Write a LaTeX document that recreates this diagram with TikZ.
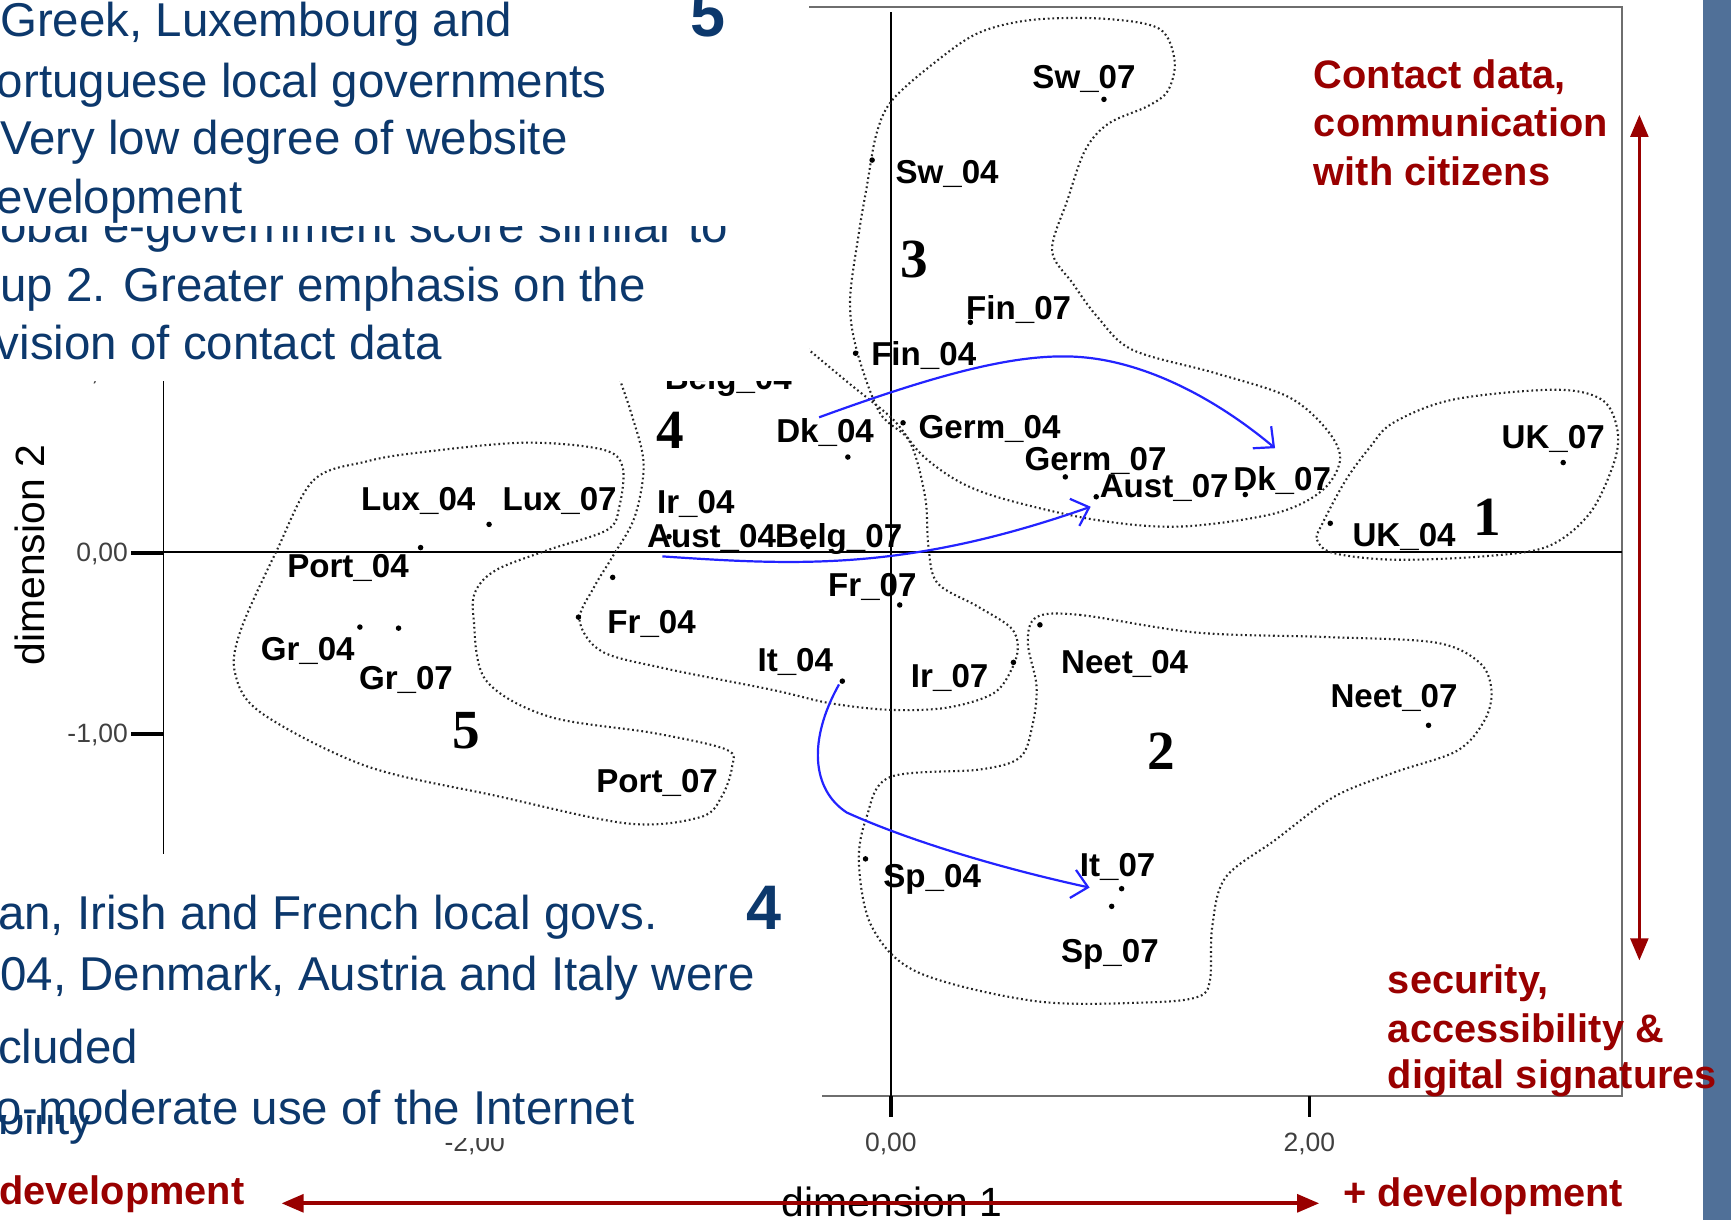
\documentclass[tikz,border=0pt]{standalone}
\usepackage{fontspec}
\setmainfont{Liberation Sans}
\newfontfamily\numserif{Liberation Serif}
\usetikzlibrary{arrows.meta}
\definecolor{navy}{RGB}{12,56,108}
\definecolor{darkred}{RGB}{153,0,0}
\definecolor{stripe}{RGB}{80,112,152}
\definecolor{arrowblue}{RGB}{35,35,255}
\definecolor{axisgray}{RGB}{110,110,110}
\begin{document}
\begin{tikzpicture}[x=1pt,y=-1pt,
  bodytext/.style={anchor=base west, inner sep=0pt, text=navy, font=\fontsize{43}{50}\selectfont},
  bignum/.style={anchor=base west, inner sep=0pt, text=navy, font=\bfseries\fontsize{57}{60}\selectfont},
  ptlabel/.style={anchor=base west, inner sep=0pt, font=\bfseries\fontsize{30}{32}\selectfont},
  clusternum/.style={anchor=base, inner sep=0pt, font=\numserif\bfseries\fontsize{50}{50}\selectfont},
  ticklabel/.style={inner sep=0pt, text=black!75, font=\fontsize{24}{26}\selectfont},
  axislabel/.style={inner sep=0pt, font=\fontsize{37}{40}\selectfont},
  redtext/.style={anchor=base west, inner sep=0pt, text=darkred, font=\bfseries\fontsize{36}{40}\selectfont},
  datapt/.style={circle, fill=black, inner sep=0pt, minimum size=5pt},
  outline/.style={draw=black!85, line width=1.9pt, dash pattern=on 1.6pt off 2.6pt},
  move/.style={draw=arrowblue, line width=2pt, -{Straight Barb[length=14pt,width=26pt,line width=2pt]}},
  extent/.style={draw=darkred, {Triangle[length=20pt,width=16pt]}-{Triangle[length=20pt,width=16pt]}},
  frameline/.style={draw=axisgray, line width=1.6pt},
  refline/.style={draw=black, line width=1.5pt},
  tickmark/.style={draw=black, line width=3pt}]

\useasboundingbox (0,0) rectangle (1568,1105);
\clip (0,0) rectangle (1568,1105);
\fill[white] (0,0) rectangle (1568,1105);
\fill[stripe] (1543,0) rectangle (1568,1105);

% ---------- plot frame and axes ----------
\coordinate (fTL) at (148,6);
\coordinate (fTR) at (1469,6);
\coordinate (fBR) at (1469,993);
\coordinate (fBL) at (148,993);
\draw[frameline] (fTL) -- (fTR) -- (fBR) -- (fBL);
\draw[refline] (fTL) -- (fBL);
\coordinate (h0) at (148,500);
\coordinate (h1) at (1469,500);
\draw[refline] (h0) -- (h1);
\coordinate (v0) at (807,11);
\coordinate (v1) at (807,993);
\draw[refline] (v0) -- (v1);

\coordinate (ty1a) at (119,337); \coordinate (ty1b) at (148,337);
\coordinate (ty0a) at (119,501); \coordinate (ty0b) at (148,501);
\coordinate (tym1a) at (119,665); \coordinate (tym1b) at (148,665);
\draw[tickmark] (ty1a) -- (ty1b);
\draw[tickmark] (ty0a) -- (ty0b);
\draw[tickmark] (tym1a) -- (tym1b);
\coordinate (txm2a) at (428,993); \coordinate (txm2b) at (428,1012);
\coordinate (tx0a) at (807,993); \coordinate (tx0b) at (807,1012);
\coordinate (tx2a) at (1186,993); \coordinate (tx2b) at (1186,1012);
\draw[tickmark] (txm2a) -- (txm2b);
\draw[tickmark] (tx0a) -- (tx0b);
\draw[tickmark] (tx2a) -- (tx2b);

\node[ticklabel, anchor=east] (ly1) at (116,338) {1,00};
\node[ticklabel, anchor=east] (ly0) at (116,502) {0,00};
\node[ticklabel, anchor=east] (lym1) at (116,666) {-1,00};
\node[ticklabel, anchor=base] (lx0) at (807,1043) {0,00};
\node[ticklabel, anchor=base] (lx2) at (1186,1043) {2,00};
\node[axislabel, rotate=90] (dimtwo) at (27,503) {dimension 2};
\node[axislabel, anchor=base] (dimone) at (808,1102) {dimension 1};

% ---------- cluster outlines ----------
\draw[outline] plot[smooth, tension=0.55] coordinates {
 (728,313) (770,348) (809,380) (835,412) (870,437) (913,453) (993,471)
 (1069,477) (1155,465) (1198,444) (1214,415) (1200,387) (1166,359)
 (1101,338) (1026,317) (994,287) (972,257) (953,227) (967,181) (983,136)
 (1004,112) (1040,96) (1058,82) (1064,55) (1050,26) (1000,17) (935,18)
 (886,30) (845,58) (808,91) (794,121) (785,170) (778,211) (770,272)
 (776,317) (797,374) (824,400) (838,450) (841,495) (849,528) (885,549)
 (915,568) (922,585) (917,605) (900,628) (858,641) (806,643) (752,637)
 (700,625) (600,605) (545,590) (525,562) (538,532) (555,504) (575,468)
 (583,420) (572,375) (560,340)};
\draw[outline] plot[smooth cycle, tension=0.55] coordinates {
 (939,559) (978,557) (1084,573) (1200,577) (1300,582) (1340,600)
 (1351,625) (1345,652) (1320,680) (1262,700) (1208,722) (1155,761)
 (1110,795) (1098,840) (1096,888) (1085,903) (1040,908) (939,907)
 (832,881) (790,840) (778,782) (785,740) (806,704) (888,697) (924,686)
 (935,658) (939,622) (931,582)};
\draw[outline] plot[smooth cycle, tension=0.55] coordinates {
 (1198,474) (1193,489) (1208,501) (1262,507) (1343,504) (1402,495)
 (1440,465) (1462,419) (1465,389) (1451,362) (1408,353) (1316,362)
 (1262,383) (1241,405) (1219,435)};
\draw[outline] plot[smooth cycle, tension=0.55] coordinates {
 (251,498) (284,435) (332,418) (379,410) (474,401) (545,407) (564,423)
 (561,459) (550,480) (497,498) (450,516) (431,535) (429,560) (440,616)
 (497,649) (592,664) (658,679) (663,695) (654,721) (635,740) (569,746)
 (450,721) (332,694) (237,646) (213,610) (218,571)};

% ---------- data points ----------
\node[datapt] (pSw07) at (1000,90) {};
\node[datapt] (pSw04) at (790,145) {};
\node[datapt] (pFin07) at (879,292) {};
\node[datapt] (pFin04) at (775,320) {};
\node[datapt] (pGerm04) at (818,383) {};
\node[datapt] (pDk04) at (768,414) {};
\node[datapt] (pGerm07) at (965,432) {};
\node[datapt] (pAust07) at (993,450) {};
\node[datapt] (pDk07) at (1128,448) {};
\node[datapt] (pUK07) at (1416,419) {};
\node[datapt] (pUK04) at (1205,474) {};
\node[datapt] (pAust04) at (606,486) {};
\node[datapt] (pBelg07) at (732,495) {};
\node[datapt] (pLux07) at (443,475) {};
\node[datapt] (pPort04) at (381,496) {};
\node[datapt] (pGr04) at (326,568) {};
\node[datapt] (pGr07) at (361,569) {};
\node[datapt] (pFr04) at (555,523) {};
\node[datapt] (pIr04) at (524,559) {};
\node[datapt] (pFr07) at (815,548) {};
\node[datapt] (pIt04) at (763,617) {};
\node[datapt] (pIr07) at (918,600) {};
\node[datapt] (pNeet04) at (942,566) {};
\node[datapt] (pNeet07) at (1294,657) {};
\node[datapt] (pSp04) at (784,778) {};
\node[datapt] (pIt07) at (1016,805) {};
\node[datapt] (pSp07) at (1007,821) {};

% ---------- point labels ----------
\node[ptlabel] (lSw07) at (935,80) {Sw\_07};
\node[ptlabel] (lSw04) at (811,166) {Sw\_04};
\node[ptlabel] (lFin07) at (875,289) {Fin\_07};
\node[ptlabel] (lFin04) at (789,331) {Fin\_04};
\node[ptlabel] (lBelg04) at (602,353) {Belg\_04};
\node[ptlabel] (lDk04) at (703,401) {Dk\_04};
\node[ptlabel] (lGerm04) at (832,397) {Germ\_04};
\node[ptlabel] (lGerm07) at (928,426) {Germ\_07};
\node[ptlabel] (lAust07) at (996,451) {Aust\_07};
\node[ptlabel] (lDk07) at (1117,444) {Dk\_07};
\node[ptlabel] (lUK07) at (1360,406) {UK\_07};
\node[ptlabel] (lUK04) at (1225,495) {UK\_04};
\node[ptlabel] (lIr04) at (595,465) {Ir\_04};
\node[ptlabel] (lAust04) at (586,496) {Aust\_04};
\node[ptlabel] (lBelg07) at (702,496) {Belg\_07};
\node[ptlabel] (lFr07) at (750,540) {Fr\_07};
\node[ptlabel] (lFr04) at (550,574) {Fr\_04};
\node[ptlabel] (lIt04) at (686,608) {It\_04};
\node[ptlabel] (lIr07) at (825,623) {Ir\_07};
\node[ptlabel] (lNeet04) at (961,610) {Neet\_04};
\node[ptlabel] (lNeet07) at (1205,641) {Neet\_07};
\node[ptlabel] (lSp04) at (800,804) {Sp\_04};
\node[ptlabel] (lIt07) at (978,794) {It\_07};
\node[ptlabel] (lSp07) at (961,872) {Sp\_07};
\node[ptlabel] (lLux04) at (327,462) {Lux\_04};
\node[ptlabel] (lLux07) at (455,462) {Lux\_07};
\node[ptlabel] (lPort04) at (260,523) {Port\_04};
\node[ptlabel] (lGr04) at (236,598) {Gr\_04};
\node[ptlabel] (lGr07) at (325,625) {Gr\_07};
\node[ptlabel] (lPort07) at (540,718) {Port\_07};

\node[clusternum] (c1) at (1347,485) {1};
\node[clusternum] (c2) at (1052,697) {2};
\node[clusternum] (c3) at (828,251) {3};
\node[clusternum] (c4) at (607,406) {4};
\node[clusternum] (c5) at (422,678) {5};

% ---------- blue movement arrows ----------
\coordinate (a1s) at (742,378);
\coordinate (a1m) at (985,324);
\coordinate (a1e) at (1155,406);
\draw[move] (a1s) .. controls (860,335) and (930,318) .. (a1m)
  .. controls (1040,330) and (1100,360) .. (a1e);
\coordinate (a2s) at (600,504);
\coordinate (a2e) at (988,459);
\draw[move] (a2s) .. controls (720,512) and (820,518) .. (a2e);
\coordinate (a3s) at (760,620);
\coordinate (a3m) at (767,736);
\coordinate (a3e) at (987,804);
\draw[move] (a3s) .. controls (732,670) and (735,715) .. (a3m)
  .. controls (820,760) and (900,785) .. (a3e);

% ---------- text boxes covering the plot ----------
\fill[white] (0,0) rectangle (733,345);
\fill[white] (0,774) rectangle (745,1031);

\begin{scope}
\clip (0,205) rectangle (733,345);
\node[bodytext] (b2l1) at (0,220) {obal e-government score similar to};
\end{scope}
\node[bodytext] (b2l2) at (0,273) {up 2. Greater emphasis on the};
\node[bodytext] (b2l3) at (-4,326) {vision of contact data};

\node[bodytext] (b1l1) at (0,33) {Greek, Luxembourg and};
\node[bodytext] (b1l2) at (-3,88) {ortuguese local governments};
\node[bodytext] (b1l3) at (0,140) {Very low degree of website};
\node[bodytext] (b1l4) at (-3,193) {evelopment};
\node[bignum] (num5) at (625,33) {5};

\node[bodytext] (b3l1) at (-2,842) {an, Irish and French local govs.};
\node[bodytext] (b3l2) at (0,897) {04, Denmark, Austria and Italy were};
\node[bodytext] (b3l3) at (-2,963) {cluded};
\begin{scope}
\clip (0,1010) rectangle (745,1105);
\node[bodytext] (b3l5) at (-2,1028) {bility};
\end{scope}
\node[bodytext] (b3l4) at (-4,1019) {o-moderate use of the Internet};
\node[bignum] (num4) at (676,842) {4};

\begin{scope}
\clip (380,1031) rectangle (480,1105);
\node[ticklabel, anchor=base] (lxm2) at (430,1043) {-2,00};
\end{scope}

% ---------- red axes of interpretation ----------
\coordinate (rvTop) at (1485,104);
\coordinate (rvBot) at (1485,870);
\draw[extent, line width=3pt] (rvTop) -- (rvBot);
\coordinate (rhL) at (255,1090);
\coordinate (rhR) at (1195,1090);
\draw[extent, line width=3.5pt] (rhL) -- (rhR);

\node[redtext] (r1) at (1190,80) {Contact data,};
\node[redtext] (r2) at (1190,124) {communication};
\node[redtext] (r3) at (1190,168) {with citizens};
\node[redtext] (r4) at (1257,900) {security,};
\node[redtext] (r5) at (1257,944) {accessibility \&};
\node[redtext] (r6) at (1257,986) {digital signatures};
\node[redtext] (r7) at (1217,1093) {+ development};
\node[redtext] (r8) at (-1,1091) {development};
\end{tikzpicture}
\end{document}
